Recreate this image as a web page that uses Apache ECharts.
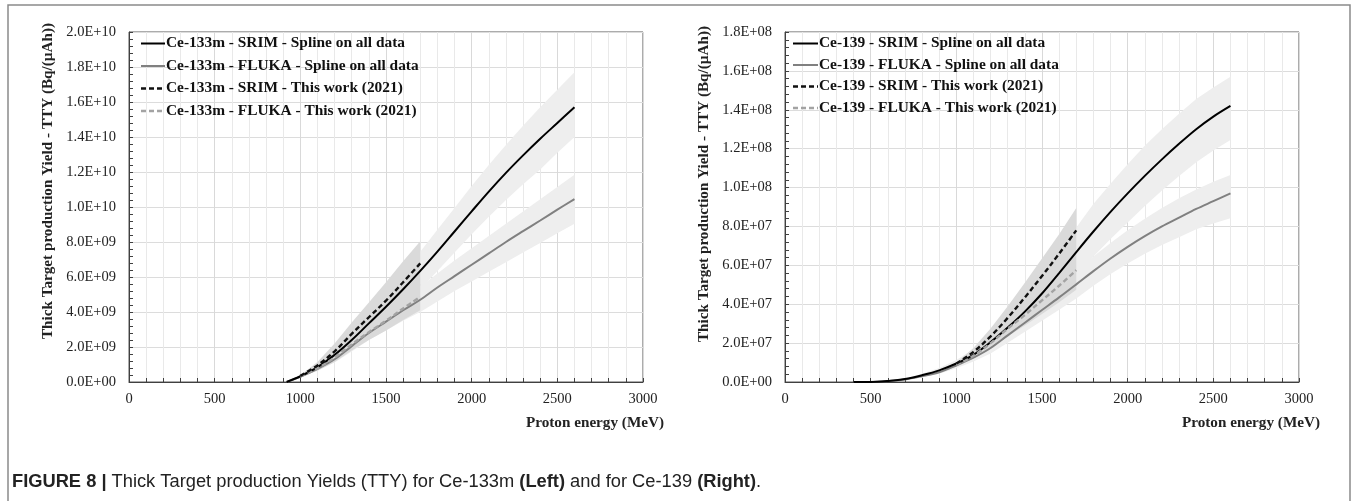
<!DOCTYPE html>
<html><head><meta charset="utf-8">
<script src="https://cdn.jsdelivr.net/npm/echarts@6/dist/echarts.min.js"></script>
<style>html,body{margin:0;padding:0;background:#fff;} #c{width:1357px;height:501px;}</style>
</head><body><div id="c"></div>
<script>
// ---------- Left panel: Ce-133m (values in units of 1E+09 Bq/(uAh)) ----------
const L_E        = [920,1000,1100,1200,1300,1400,1500,1600,1700,1800,1900,2000,2100,2200,2300,2400,2500,2600];
const L_SRIM     = [0,0.33,0.85,1.55,2.4,3.35,4.3,5.3,6.35,7.45,8.6,9.75,10.88,11.95,12.95,13.9,14.8,15.7];
const L_SRIM_HI  = [0,0.4,1.02,1.88,2.9,4.05,5.15,6.3,7.45,8.7,9.95,11.2,12.4,13.55,14.65,15.7,16.7,17.7];
const L_SRIM_LO  = [0,0.27,0.7,1.25,1.95,2.75,3.55,4.4,5.3,6.35,7.4,8.45,9.45,10.4,11.3,12.15,13.1,14.0];
const L_FLUKA    = [0,0.3,0.75,1.3,2.05,2.8,3.45,4.1,4.7,5.4,6.05,6.7,7.35,8.0,8.62,9.23,9.85,10.45];
const L_FLUKA_HI = [0,0.35,0.88,1.52,2.38,3.25,4.0,4.75,5.45,6.2,6.95,7.65,8.35,9.05,9.75,10.45,11.15,11.85];
const L_FLUKA_LO = [0,0.26,0.65,1.12,1.75,2.4,2.95,3.5,4.0,4.6,5.2,5.75,6.3,6.85,7.4,7.95,8.5,9.05];
const L_TW_E        = [1000,1100,1200,1300,1400,1500,1600,1700];
const L_TW_SRIM     = [0.35,0.95,1.75,2.75,3.7,4.65,5.7,6.78];
const L_TW_SRIM_HI  = [0.38,1.15,2.2,3.4,4.55,5.7,6.9,8.05];
const L_TW_SRIM_LO  = [0.32,0.78,1.38,2.15,2.95,3.75,4.6,5.5];
const L_TW_FLUKA    = [0.32,0.78,1.4,2.15,2.85,3.5,4.2,4.87];
const L_TW_FLUKA_HI = [0.35,0.92,1.65,2.5,3.3,4.05,4.85,5.6];
const L_TW_FLUKA_LO = [0.29,0.64,1.15,1.8,2.4,2.95,3.55,4.1];
const L_NAMES = ['Ce-133m - SRIM - Spline on all data','Ce-133m - FLUKA - Spline on all data','Ce-133m - SRIM - This work (2021)','Ce-133m - FLUKA - This work (2021)'];
const L_UNIT = 1e9, L_YMAX = 20, L_YSTEP = 2;

// ---------- Right panel: Ce-139 (values in units of 1E+07 Bq/(uAh)) ----------
const R_E        = [400,500,600,700,800,900,1000,1100,1200,1300,1400,1500,1600,1700,1800,1900,2000,2100,2200,2300,2400,2500,2600];
const R_SRIM     = [0,0,0.05,0.15,0.35,0.6,0.95,1.4,2.05,2.8,3.62,4.55,5.6,6.68,7.74,8.75,9.7,10.6,11.45,12.25,13.0,13.65,14.2];
const R_SRIM_HI  = [0,0,0.06,0.18,0.42,0.72,1.13,1.67,2.44,3.33,4.28,5.4,6.7,7.95,9.15,10.2,11.2,12.15,13.0,13.8,14.55,15.15,15.7];
const R_SRIM_LO  = [0,0,0.04,0.12,0.28,0.48,0.77,1.13,1.66,2.27,2.92,3.7,4.6,5.5,6.45,7.35,8.2,9.05,9.85,10.6,11.3,11.9,12.45];
const R_FLUKA    = [0,0,0.05,0.13,0.3,0.5,0.85,1.25,1.75,2.4,3.05,3.7,4.35,5.02,5.7,6.35,6.95,7.5,8.0,8.45,8.9,9.3,9.7];
const R_FLUKA_HI = [0,0,0.06,0.15,0.35,0.58,0.99,1.45,2.03,2.78,3.52,4.25,4.98,5.7,6.45,7.15,7.8,8.4,8.95,9.45,9.9,10.3,10.65];
const R_FLUKA_LO = [0,0,0.04,0.11,0.25,0.42,0.71,1.05,1.47,2.02,2.58,3.15,3.72,4.3,4.95,5.55,6.1,6.6,7.05,7.45,7.85,8.15,8.42];
const R_TW_E        = [1000,1100,1200,1300,1400,1500,1600,1700];
const R_TW_SRIM     = [0.95,1.55,2.35,3.3,4.35,5.45,6.6,7.8];
const R_TW_SRIM_HI  = [1.0,1.75,2.75,3.9,5.1,6.35,7.6,8.95];
const R_TW_SRIM_LO  = [0.9,1.35,2.0,2.75,3.6,4.55,5.6,6.65];
const R_TW_FLUKA    = [0.88,1.35,2.0,2.75,3.45,4.2,4.95,5.75];
const R_TW_FLUKA_HI = [0.92,1.5,2.3,3.2,4.0,4.9,5.75,6.65];
const R_TW_FLUKA_LO = [0.84,1.2,1.72,2.35,2.9,3.5,4.1,4.75];
const R_NAMES = ['Ce-139 - SRIM - Spline on all data','Ce-139 - FLUKA - Spline on all data','Ce-139 - SRIM - This work (2021)','Ce-139 - FLUKA - This work (2021)'];
const R_UNIT = 1e7, R_YMAX = 18, R_YSTEP = 2;

const X_MIN = 0, X_MAX = 3000, X_STEP = 500;
const Y_TITLE = 'Thick Target production Yield - TTY (Bq/(\u00b5Ah))';
const X_TITLE = 'Proton energy (MeV)';
const CAPTION_BOLD = 'FIGURE 8 |';
const CAPTION_PARTS = [' Thick Target production Yields (TTY) for Ce-133m ', '(Left)', ' and for Ce-139 ', '(Right)', '.'];

const SERIF = "'Liberation Serif','Times New Roman',serif";
const LIGHT_BAND = '#eeeeee', DARK_BAND = '#dadada';
const STYLES = [ // order matches NAMES: SRIM spline, FLUKA spline, SRIM this work, FLUKA this work
  {color:'#000000', dashed:false}, {color:'#808080', dashed:false},
  {color:'#111111', dashed:true},  {color:'#a3a3a3', dashed:true}
];

function sci(v, unit){
  const n = v*unit;
  if (Math.abs(n) < 1e-9) return '0.0E+00';
  const e = Math.floor(Math.log10(n) + 1e-9);
  const m = n/Math.pow(10, e);
  return m.toFixed(1) + 'E+' + String(e).padStart(2,'0');
}
function pairs(xs, ys){ return xs.map((x,i)=>[x, ys[i]]); }
function band(g, xs, lo, hi, color){
  return {type:'custom', xAxisIndex:g, yAxisIndex:g, silent:true, z:1,
    data: xs.map((x,i)=>[x, lo[i], hi[i]]),
    encode:{x:0, y:[1,2]},
    renderItem:function(params, api){
      if (params.dataIndex !== 0) return null;
      const pts = [];
      for (let i=0;i<xs.length;i++) pts.push(api.coord([xs[i], hi[i]]));
      for (let i=xs.length-1;i>=0;i--) pts.push(api.coord([xs[i], lo[i]]));
      return {type:'polygon', shape:{points:pts}, style:{fill:color, stroke:null}};
    }};
}
function line(g, name, xs, ys, st){
  return {type:'line', name:name, xAxisIndex:g, yAxisIndex:g, data:pairs(xs, ys), symbol:'none', smooth:0.35,
    lineStyle:{color:st.color, width:st.dashed?2.4:2, type:st.dashed?[5,3]:'solid'}, itemStyle:{color:st.color}, z:3};
}
function panelSeries(g, P){
  return [
    band(g, P.E, P.SRIM_LO, P.SRIM_HI, LIGHT_BAND),
    band(g, P.E, P.FLUKA_LO, P.FLUKA_HI, LIGHT_BAND),
    band(g, P.TW_E, P.TW_SRIM_LO, P.TW_SRIM_HI, DARK_BAND),
    band(g, P.TW_E, P.TW_FLUKA_LO, P.TW_FLUKA_HI, DARK_BAND),
    line(g, P.NAMES[1], P.E, P.FLUKA, STYLES[1]),
    line(g, P.NAMES[0], P.E, P.SRIM, STYLES[0]),
    line(g, P.NAMES[3], P.TW_E, P.TW_FLUKA, STYLES[3]),
    line(g, P.NAMES[2], P.TW_E, P.TW_SRIM, STYLES[2])
  ];
}
const LEFT = {E:L_E, SRIM:L_SRIM, SRIM_HI:L_SRIM_HI, SRIM_LO:L_SRIM_LO, FLUKA:L_FLUKA, FLUKA_HI:L_FLUKA_HI, FLUKA_LO:L_FLUKA_LO,
  TW_E:L_TW_E, TW_SRIM:L_TW_SRIM, TW_SRIM_HI:L_TW_SRIM_HI, TW_SRIM_LO:L_TW_SRIM_LO, TW_FLUKA:L_TW_FLUKA, TW_FLUKA_HI:L_TW_FLUKA_HI, TW_FLUKA_LO:L_TW_FLUKA_LO, NAMES:L_NAMES};
const RIGHT = {E:R_E, SRIM:R_SRIM, SRIM_HI:R_SRIM_HI, SRIM_LO:R_SRIM_LO, FLUKA:R_FLUKA, FLUKA_HI:R_FLUKA_HI, FLUKA_LO:R_FLUKA_LO,
  TW_E:R_TW_E, TW_SRIM:R_TW_SRIM, TW_SRIM_HI:R_TW_SRIM_HI, TW_SRIM_LO:R_TW_SRIM_LO, TW_FLUKA:R_TW_FLUKA, TW_FLUKA_HI:R_TW_FLUKA_HI, TW_FLUKA_LO:R_TW_FLUKA_LO, NAMES:R_NAMES};

const AX = '#404040';
function xAxis(g){
  return {type:'value', gridIndex:g, min:X_MIN, max:X_MAX, interval:X_STEP,
    axisLine:{show:true, onZero:false, lineStyle:{color:AX, width:1}},
    axisTick:{show:true, inside:true, length:4, lineStyle:{color:AX}},
    minorTick:{show:true, splitNumber:5, length:4, lineStyle:{color:AX}},
    splitLine:{show:true, lineStyle:{color:'#d9d9d9'}},
    minorSplitLine:{show:true, lineStyle:{color:'#e9e9e9'}},
    axisLabel:{margin:10, fontFamily:SERIF, fontSize:14.5, color:'#222', formatter:v=>String(v)}};
}
function yAxis(g, max, step, unit){
  return {type:'value', gridIndex:g, min:0, max:max, interval:step,
    axisLine:{show:true, onZero:false, lineStyle:{color:AX, width:1}},
    axisTick:{show:true, inside:true, length:4, lineStyle:{color:AX}},
    minorTick:{show:true, splitNumber:5, length:4, lineStyle:{color:AX}},
    splitLine:{show:true, lineStyle:{color:'#dcdcdc'}},
    minorSplitLine:{show:false},
    axisLabel:{margin:13, fontFamily:SERIF, fontSize:14.5, color:'#222', formatter:v=>sci(v, unit)}};
}
function legendGraphics(names, lineX, textX, rowsY){
  const els = [];
  names.forEach((nm, i)=>{
    const st = STYLES[i], y = rowsY[i];
    els.push({type:'line', z:100, shape:{x1:lineX, y1:y, x2:textX-1, y2:y}, silent:true,
      style:{stroke:st.color, lineWidth:st.dashed?2.4:2, lineDash:st.dashed?[5,3]:null}});
    els.push({type:'text', z:100, x:textX, y:y, silent:true,
      style:{text:nm, font:"bold 15.4px 'Liberation Serif','Times New Roman',serif", fill:'#111', align:'left', verticalAlign:'middle'}});
  });
  return els;
}

const chart = echarts.init(document.getElementById('c'), null, {renderer:'canvas'});
const CAP_FONT = "'Liberation Sans Narrow','Liberation Sans',Arial,sans-serif";
const rich = {b:{fontFamily:CAP_FONT, fontWeight:'bold', fontSize:18.3, fill:'#222'},
              n:{fontFamily:CAP_FONT, fontSize:18.3, fill:'#222'}};
const capText = '{b|' + CAPTION_BOLD + '}{n|' + CAPTION_PARTS[0] + '}{b|' + CAPTION_PARTS[1] + '}{n|' + CAPTION_PARTS[2] + '}{b|' + CAPTION_PARTS[3] + '}{n|' + CAPTION_PARTS[4] + '}';
const TITLE_FONT = "bold 15.2px 'Liberation Serif','Times New Roman',serif";

chart.setOption({
  backgroundColor:'#ffffff',
  animation:false,
  grid:[
    {left:129, top:32, width:514, height:350, show:true, borderColor:'#595959', borderWidth:1, backgroundColor:'transparent'},
    {left:785, top:32, width:514, height:350, show:true, borderColor:'#595959', borderWidth:1, backgroundColor:'transparent'}
  ],
  xAxis:[xAxis(0), xAxis(1)],
  yAxis:[yAxis(0, L_YMAX, L_YSTEP, L_UNIT), yAxis(1, R_YMAX, R_YSTEP, R_UNIT)],
  series:[].concat(panelSeries(0, LEFT), panelSeries(1, RIGHT)),
  graphic:[].concat(
    [{type:'rect', z:100, shape:{x:8, y:5, width:1342, height:520}, style:{fill:'none', stroke:'#8a8a8a', lineWidth:1.5}, silent:true},
     {type:'text', z:100, x:48, y:181, rotation:Math.PI/2, style:{text:Y_TITLE, font:TITLE_FONT, fill:'#222', align:'center', verticalAlign:'middle'}},
     {type:'text', z:100, x:704, y:184, rotation:Math.PI/2, style:{text:Y_TITLE, font:TITLE_FONT, fill:'#222', align:'center', verticalAlign:'middle'}},
     {type:'text', z:100, x:664, y:423, style:{text:X_TITLE, font:TITLE_FONT, fill:'#222', align:'right', verticalAlign:'middle'}},
     {type:'text', z:100, x:1320, y:423, style:{text:X_TITLE, font:TITLE_FONT, fill:'#222', align:'right', verticalAlign:'middle'}},
     {type:'text', z:100, x:12, y:482, style:{text:capText, rich:rich, verticalAlign:'middle', align:'left'}}],
    legendGraphics(L_NAMES, 141, 166, [43.5, 66, 88.5, 111]),
    legendGraphics(R_NAMES, 793, 819, [43.5, 65, 86.5, 108])
  )
});
</script>
</body></html>
